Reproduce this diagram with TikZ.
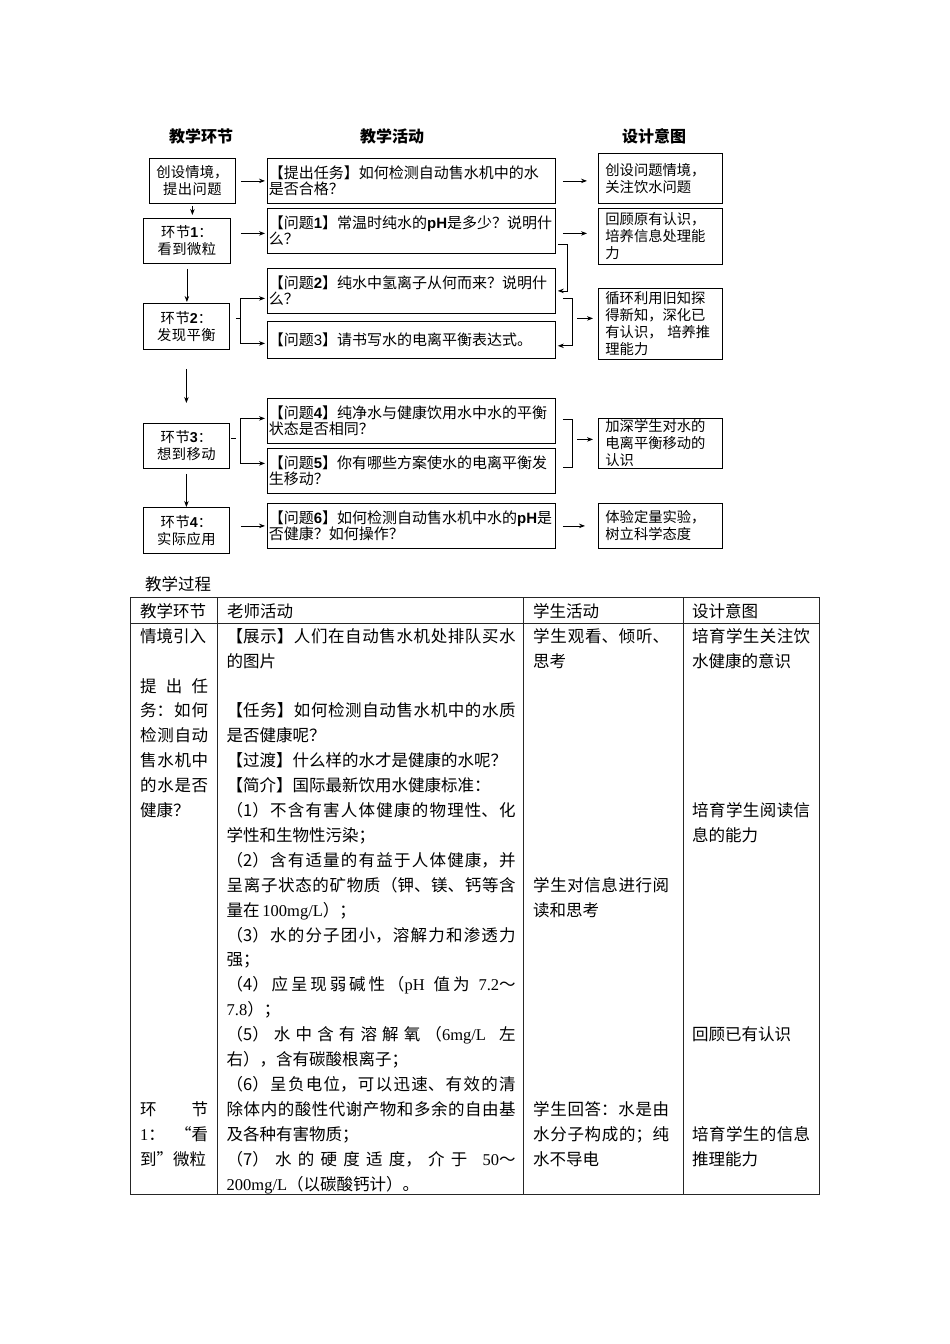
\documentclass[tikz,border=0pt]{standalone}
\usepackage{fontspec}
\setmainfont{Noto Sans CJK SC}
\newfontfamily\latf{Liberation Serif}
\newfontfamily\arf{Liberation Sans}
\usetikzlibrary{arrows.meta,calc}
\XeTeXlinebreaklocale "zh"
\XeTeXlinebreakskip=0pt plus 1pt
\setlength{\parindent}{0pt}
\tolerance=10000
\hbadness=10000
\newcommand{\ffont}{\fontsize{14.3}{17}\selectfont}
\newcommand{\mfont}{\fontsize{15}{16.5}\selectfont}
\newcommand{\tfont}{\fontsize{16.5}{24.9}\selectfont}
\newcommand{\hfont}{\fontsize{16}{18}\selectfont\bfseries}
\newcommand{\AB}[1]{{\arf\bfseries #1}}
\newcommand{\TR}[1]{\mbox{\latf #1}}
\begin{document}
\begin{tikzpicture}[x=1pt,y=-1pt,
  lbox/.style={draw, line width=0.8pt, anchor=north west, inner sep=0pt, align=center, font=\ffont},
  mbox/.style={draw, line width=0.8pt, anchor=north west, inner xsep=1.5pt, inner ysep=0pt, text width=285pt, minimum width=288pt, align=left, font=\mfont},
  rbox/.style={draw, line width=0.8pt, anchor=north west, inner xsep=7pt, inner ysep=0pt, text width=110pt, minimum width=124pt, align=left, font=\ffont},
  arr/.style={-{Stealth[length=6pt,width=4.5pt]}, line width=0.8pt},
  conn/.style={line width=0.8pt},
  hdr/.style={anchor=base, font=\hfont, inner sep=0pt},
  cell/.style={anchor=north west, inner sep=0pt, align=justify, font=\tfont},
  tline/.style={line width=0.9pt, black!85}
]
\useasboundingbox[fill=white] (0,0) rectangle (950,1344);

% ---------- flowchart headers ----------
\node[hdr] (H1) at (201,142) {教学环节};
\node[hdr] (H2) at (392,142) {教学活动};
\node[hdr] (H3) at (654,142) {设计意图};

% ---------- left column ----------
\node[lbox, minimum width=86pt, text width=86pt, minimum height=45pt] (L1) at (149,158) {创设情境，\\提出问题};
\node[lbox, minimum width=87pt, text width=87pt, minimum height=45pt] (L2) at (143,218) {环节\AB{1}：\\看到微粒};
\node[lbox, minimum width=86pt, text width=86pt, minimum height=46pt] (L3) at (143,303) {环节\AB{2}：\\发现平衡};
\node[lbox, minimum width=86pt, text width=86pt, minimum height=45pt] (L4) at (143,423) {环节\AB{3}：\\想到移动};
\node[lbox, minimum width=86pt, text width=86pt, minimum height=46pt] (L5) at (143,507) {环节\AB{4}：\\实际应用};

% ---------- middle column ----------
\node[mbox, minimum height=45pt] (M1) at (267,158) {【提出任务】如何检测自动售水机中的水\\是否合格？};
\node[mbox, minimum height=45pt] (M2) at (267,208) {【问题\AB{1}】常温时纯水的\AB{pH}是多少？说明什\\么？};
\node[mbox, minimum height=45pt] (M3) at (267,268) {【问题\AB{2}】纯水中氢离子从何而来？说明什\\么？};
\node[mbox, minimum height=37pt] (M4) at (267,321) {【问题{\arf 3}】请书写水的电离平衡表达式。};
\node[mbox, minimum height=45pt] (M5) at (267,398) {【问题\AB{4}】纯净水与健康饮用水中水的平衡\\状态是否相同？};
\node[mbox, minimum height=45pt] (M6) at (267,448) {【问题\AB{5}】你有哪些方案使水的电离平衡发\\生移动？};
\node[mbox, minimum height=45pt] (M7) at (267,503) {【问题\AB{6}】如何检测自动售水机中水的\AB{pH}是\\否健康？如何操作？};

% ---------- right column ----------
\node[rbox, minimum height=50pt] (R1) at (598,153) {创设问题情境，\\关注饮水问题};
\node[rbox, minimum height=56pt] (R2) at (598,208) {回顾原有认识，\\培养信息处理能\\力};
\node[rbox, minimum height=71pt] (R3) at (598,288) {循环利用旧知探\\得新知，深化已\\有认识， 培养推\\理能力};
\node[rbox, minimum height=50pt] (R4) at (598,418) {加深学生对水的\\电离平衡移动的\\认识};
\node[rbox, minimum height=45pt] (R5) at (598,503) {体验定量实验，\\树立科学态度};

% ---------- connectors ----------
\draw[arr, shorten <=5pt, shorten >=2pt] (L1.east) -- (M1.west);
\draw[arr, shorten <=7pt, shorten >=11pt] (M1.east) -- (M1.east -| R1.west);
\draw[arr, shorten <=2pt, shorten >=3pt] (L1.south) -- (L1.south |- L2.north);

\draw[arr, shorten <=10pt, shorten >=2pt] ($(L2.east |- M2.west)+(0,2.5)$) -- ($(M2.west)+(0,2.5)$);
\draw[arr, shorten <=7pt, shorten >=11pt] ($(M2.east)+(0,2.5)$) -- ($(M2.east -| R2.west)+(0,2.5)$);
\draw[arr, shorten >=2pt] ($(M2.south east)+(2,-9)$) -- ++(10,0) |- (M3.east);

\draw[arr, shorten <=5pt, shorten >=1pt] (L2.south) -- (L2.south |- L3.north);
\coordinate (F3) at ($(L3.east)+(11,-8)$);
\draw[conn] ($(L3.east)+(6,-8)$) -- (F3);
\draw[arr, shorten >=2pt] (F3) |- ($(M3.west)+(0,7.5)$);
\draw[arr, shorten >=2pt] (F3) |- ($(M4.west)+(0,3.5)$);
\draw[arr, shorten >=2pt] ($(M3.south east)+(7,-15)$) -- ++(10,0) |- ($(M4.south east)+(0,-13)$);
\draw[arr] ($(R3.west)+(-21,-5.5)$) -- ($(R3.west)+(-5,-5.5)$);

\draw[arr, shorten <=19pt, shorten >=20pt] (L3.south) -- (L3.south |- L4.north);
\coordinate (F4) at ($(L4.east)+(11,-7.5)$);
\draw[conn] ($(L4.east)+(1,-7.5)$) -- ++(5,0);
\draw[arr, shorten >=2pt] (F4) |- ($(M5.west)+(0,-2.5)$);
\draw[arr, shorten >=2pt] (F4) |- ($(M6.west)+(0,-7.5)$);
\draw[conn] ($(M5.east)+(7,-1.5)$) -- ++(10,0) |- ($(M6.east)+(7,-3.5)$);
\draw[arr] ($(R4.west)+(-21,-4)$) -- ($(R4.west)+(-5,-4)$);

\draw[arr, shorten <=5pt] (L4.south) -- (L4.south |- L5.north);
\draw[arr, shorten <=11pt, shorten >=2pt] (L5.east |- M7.west) -- (M7.west);
\draw[arr, shorten <=7pt, shorten >=13pt] (M7.east) -- (M7.east -| R5.west);

% ---------- table ----------
\node[anchor=base west, inner sep=0pt, font=\tfont] (T0) at (145,590) {教学过程};
\draw[tline] (130,597) rectangle (819,1194);
\draw[tline] (130,623) -- (819,623);
\draw[tline] (217,597) -- (217,1194);
\draw[tline] (523,597) -- (523,1194);
\draw[tline] (683,597) -- (683,1194);

\node[anchor=base west, inner sep=0pt, font=\tfont] (TH1) at (140,617) {教学环节};
\node[anchor=base west, inner sep=0pt, font=\tfont] (TH2) at (227,617) {老师活动};
\node[anchor=base west, inner sep=0pt, font=\tfont] (TH3) at (533,617) {学生活动};
\node[anchor=base west, inner sep=0pt, font=\tfont] (TH4) at (692,617) {设计意图};

% column 1
\node[cell, text width=68pt] (C1a) at (140,624.6) {\strut 情境引入\par\mbox{}\par
提出任\linebreak 务：如何\linebreak 检测自动\linebreak 售水机中\linebreak 的水是否\linebreak 健康？};
\node[cell, text width=68pt] (C1b) at (140,1097.7) {\strut 环节\linebreak \TR{1}：“看\linebreak 到”微粒};

% column 2
\node[cell, text width=289pt] (C2) at (226.5,624.6) {\strut 【展示】人们在自动售水机处排队买水\linebreak 的图片\par
\mbox{}\par
【任务】如何检测自动售水机中的水质\linebreak 是否健康呢？\par
【过渡】什么样的水才是健康的水呢？\par
【简介】国际最新饮用水健康标准：\par
（1）不含有害人体健康的物理性、化\linebreak 学性和生物性污染；\par
（2）含有适量的有益于人体健康，并\linebreak 呈离子状态的矿物质（钾、镁、钙等含\linebreak 量在\,\TR{100mg/L}）；\par
（3）水的分子团小，溶解力和渗透力\linebreak 强；\par
（4）应呈现弱碱性（\TR{pH} 值为 \TR{7.2}～\linebreak \TR{7.8}）；\par
（5）水中含有溶解氧（\TR{6mg/L} 左\linebreak 右），含有碳酸根离子；\par
（6）呈负电位，可以迅速、有效的清\linebreak 除体内的酸性代谢产物和多余的自由基\linebreak 及各种有害物质；\par
（7）水的硬度适度，介于 \TR{50}～\linebreak \TR{200mg/L}（以碳酸钙计）。};

% column 3
\node[cell, text width=136pt] (C3a) at (533,624.6) {\strut 学生观看、倾听、\linebreak 思考};
\node[cell, text width=136pt] (C3b) at (533,873.6) {\strut 学生对信息进行阅\linebreak 读和思考};
\node[cell, text width=136pt] (C3c) at (533,1097.7) {\strut 学生回答：水是由\linebreak 水分子构成的；纯\linebreak 水不导电};

% column 4
\node[cell, text width=118pt] (C4a) at (692,624.6) {\strut 培育学生关注饮\linebreak 水健康的意识};
\node[cell, text width=118pt] (C4b) at (692,798.9) {\strut 培育学生阅读信\linebreak 息的能力};
\node[cell, text width=118pt] (C4c) at (692,1023.0) {\strut 回顾已有认识};
\node[cell, text width=118pt] (C4d) at (692,1122.6) {\strut 培育学生的信息\linebreak 推理能力};
\end{tikzpicture}
\end{document}
